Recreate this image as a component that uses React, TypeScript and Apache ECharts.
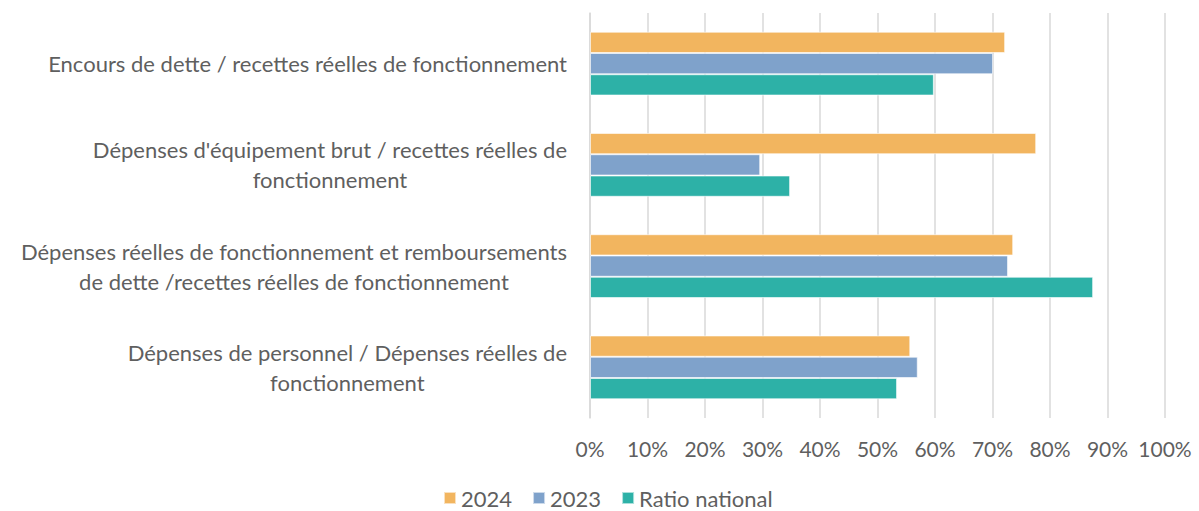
import React, { useEffect, useRef } from "react";
import * as echarts from "echarts";

const categories = [
  "Encours de dette / recettes réelles de fonctionnement",
  "Dépenses d'équipement brut / recettes réelles de\nfonctionnement",
  "Dépenses réelles de fonctionnement et remboursements\nde dette /recettes réelles de fonctionnement",
  "Dépenses de personnel / Dépenses réelles de\nfonctionnement",
];
const values2024 = [72.2, 77.6, 73.6, 55.7];
const values2023 = [70.1, 29.6, 72.7, 57.0];
const ratioNational = [59.8, 34.8, 87.5, 53.4];
const seriesNames = ["2024", "2023", "Ratio national"];
const colors = ["#F2B55F", "#7FA2CB", "#2DB1A7"];
const xTicks = [0, 10, 20, 30, 40, 50, 60, 70, 80, 90, 100];

export default function App() {
  const ref = useRef<HTMLDivElement>(null);
  useEffect(() => {
    if (!ref.current) return;
    const chart = echarts.init(ref.current, null, { renderer: "svg" });
    const font = "Lato, 'Open Sans', sans-serif";
    const mk = (name: string, data: number[], color: string) => ({
      name,
      type: "bar",
      data,
      barGap: "0%",
      barCategoryGap: "37%",
      itemStyle: { color, borderColor: "rgba(255,255,255,0.6)", borderWidth: 1 },
    });
    chart.setOption({
      animation: false,
      textStyle: { fontFamily: font },
      color: colors,
      grid: { left: 590, right: 34, top: 13, bottom: 93, containLabel: false },
      xAxis: {
        type: "value",
        min: xTicks[0],
        max: xTicks[xTicks.length - 1],
        interval: 10,
        axisLine: { show: false },
        axisTick: { show: false },
        splitLine: { lineStyle: { color: "#D9D9D9", width: 1.5 } },
        axisLabel: {
          formatter: (v: number) => v + "%",
          color: "#5F5F5F",
          fontSize: 21,
          fontFamily: font,
          margin: 20,
        },
      },
      yAxis: {
        type: "category",
        inverse: true,
        data: categories,
        axisLine: { show: true, lineStyle: { color: "#D9D9D9", width: 1.5 } },
        axisTick: { show: false },
        axisLabel: {
          margin: 23,
          color: "#5F5F5F",
          fontSize: 22,
          fontFamily: font,
          lineHeight: 30,
          formatter: (v: string) =>
            v
              .split("\n")
              .map((l) => "{c|" + l + "}")
              .join("\n"),
          rich: {
            c: { align: "center", color: "#5F5F5F", fontSize: 22, fontFamily: font, lineHeight: 30 },
          },
        },
      },
      legend: {
        data: seriesNames,
        top: 487,
        left: 443,
        padding: 0,
        icon: "rect",
        itemWidth: 12,
        itemHeight: 12,
        itemGap: 20,
        textStyle: { color: "#5F5F5F", fontSize: 22, lineHeight: 22, fontFamily: font },
      },
      series: [
        mk(seriesNames[0], values2024, colors[0]),
        mk(seriesNames[1], values2023, colors[1]),
        mk(seriesNames[2], ratioNational, colors[2]),
      ],
    });
    return () => chart.dispose();
  }, []);
  return <div ref={ref} style={{ width: 1199, height: 511, position: "absolute", left: 0, top: 0 }} />;
}
